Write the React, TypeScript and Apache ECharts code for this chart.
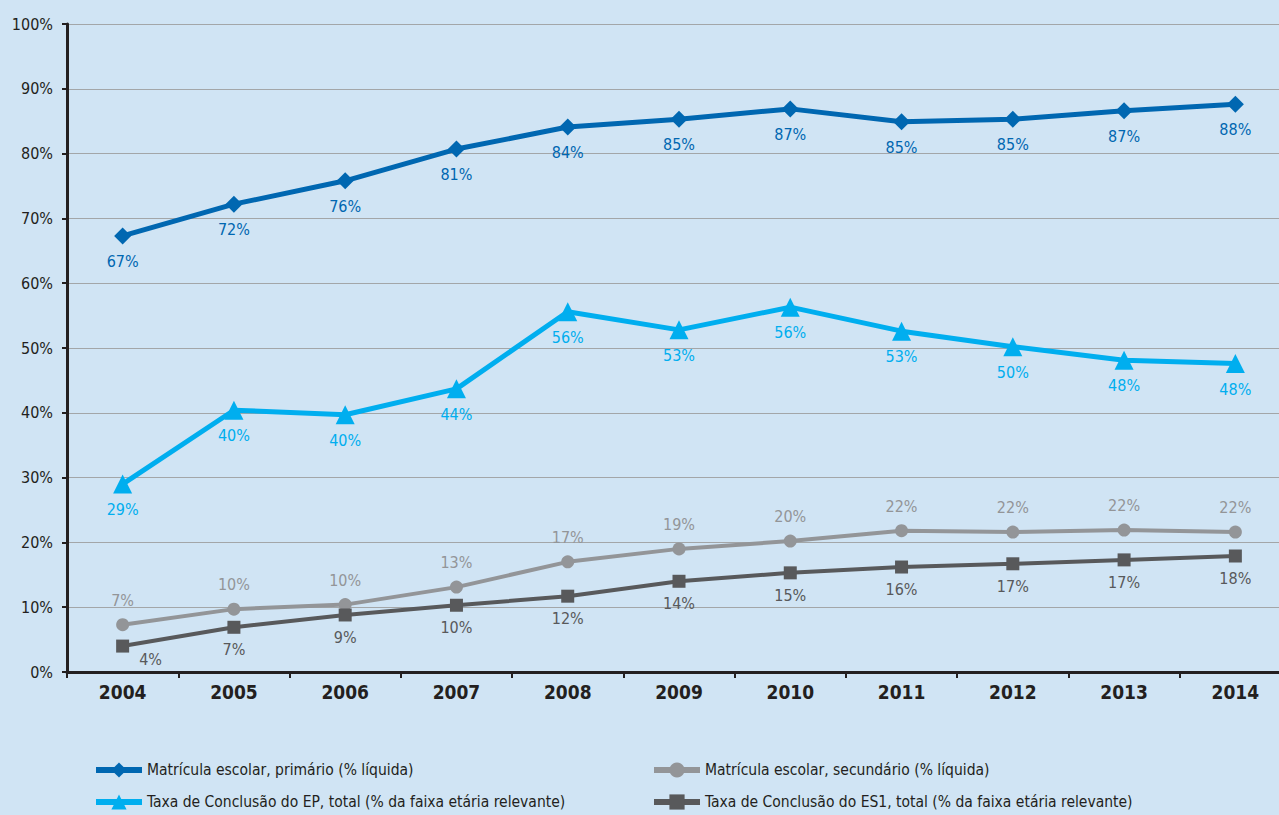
import React, { useEffect, useRef } from "react";
import * as echarts from "echarts";

const years = ["2004", "2005", "2006", "2007", "2008", "2009", "2010", "2011", "2012", "2013", "2014"];
const primario = [67.3, 72.2, 75.8, 80.7, 84.1, 85.3, 86.9, 84.9, 85.3, 86.6, 87.6];
const conclusaoEP = [29.0, 40.4, 39.7, 43.7, 55.6, 52.8, 56.3, 52.6, 50.2, 48.1, 47.6];
const secundario = [7.3, 9.7, 10.4, 13.1, 17.0, 19.0, 20.2, 21.8, 21.6, 21.9, 21.6];
const conclusaoES1 = [4.0, 6.9, 8.8, 10.3, 11.7, 14.0, 15.3, 16.2, 16.7, 17.3, 17.9];
const seriesNames = [
  "Matrícula escolar, primário (% líquida)",
  "Taxa de Conclusão do EP, total (% da faixa etária relevante)",
  "Matrícula escolar, secundário (% líquida)",
  "Taxa de Conclusão do ES1, total (% da faixa etária relevante)",
];

const FONT = "'DejaVu Sans Condensed', 'Liberation Sans Narrow', sans-serif";

export default function App() {
  const ref = useRef<HTMLDivElement>(null);
  useEffect(() => {
    const chart = echarts.init(ref.current!, null, { renderer: "svg" });
    const mk = (
      name: string,
      data: number[],
      color: string,
      symbol: string,
      size: number,
      width: number,
      pos: string,
      dist: number,
      firstOffset?: number[]
    ) => ({
      name,
      type: "line",
      data: data.map((v, i) =>
        i === 0 && firstOffset ? { value: v, label: { offset: firstOffset } } : v
      ),
      symbol,
      symbolSize: size,
      lineStyle: { color, width },
      itemStyle: { color },
      label: {
        show: true,
        position: pos,
        distance: dist,
        color,
        fontFamily: FONT,
        fontSize: 16,
        formatter: (p: any) => Math.round(p.value) + "%",
      },
    });
    const legendCommon = {
      orient: "vertical",
      top: 757,
      itemGap: 16,
      itemWidth: 46,
      itemHeight: 19,
      lineStyle: { width: 6 },
      textStyle: { color: "#231f20", fontSize: 15.5, fontFamily: FONT },
    };
    chart.setOption({
      animation: false,
      backgroundColor: "#d0e4f4",
      textStyle: { fontFamily: FONT },
      grid: { left: 67, top: 24, bottom: 143, right: 9, containLabel: false },
      xAxis: {
        type: "category",
        data: years,
        boundaryGap: true,
        axisLine: { lineStyle: { color: "#231f20", width: 3 } },
        axisTick: { show: true, length: 6, lineStyle: { color: "#231f20", width: 2 } },
        axisLabel: { color: "#231f20", fontWeight: "bold", fontSize: 19, fontFamily: FONT, margin: 10 },
      },
      yAxis: {
        type: "value",
        min: 0,
        max: 100,
        interval: 10,
        axisLine: { show: true, lineStyle: { color: "#231f20", width: 3 } },
        axisTick: { show: true, length: 5, lineStyle: { color: "#231f20", width: 2 } },
        axisLabel: { color: "#231f20", fontSize: 16, fontFamily: FONT, margin: 14, formatter: "{value}%" },
        splitLine: { lineStyle: { color: "#a3a6a8", width: 1 } },
      },
      legend: [
        { ...legendCommon, left: 88, data: [seriesNames[0], seriesNames[1]] },
        { ...legendCommon, left: 646, data: [seriesNames[2], seriesNames[3]] },
      ],
      series: [
        mk(seriesNames[0], primario, "#0067b1", "diamond", 17, 5, "bottom", 9),
        mk(seriesNames[1], conclusaoEP, "#00aeef", "triangle", 19, 5, "bottom", 8),
        mk(seriesNames[2], secundario, "#939598", "circle", 13, 4, "top", 10),
        mk(seriesNames[3], conclusaoES1, "#58595b", "rect", 13, 4, "bottom", 8, [28, -9]),
      ],
    });
    return () => chart.dispose();
  }, []);
  return (
    <div style={{ position: "absolute", left: 0, top: 0, width: 1279, height: 815, overflow: "hidden", background: "#d0e4f4" }}>
      <div ref={ref} style={{ position: "absolute", left: 0, top: 0, width: 1300, height: 815 }} />
    </div>
  );
}
